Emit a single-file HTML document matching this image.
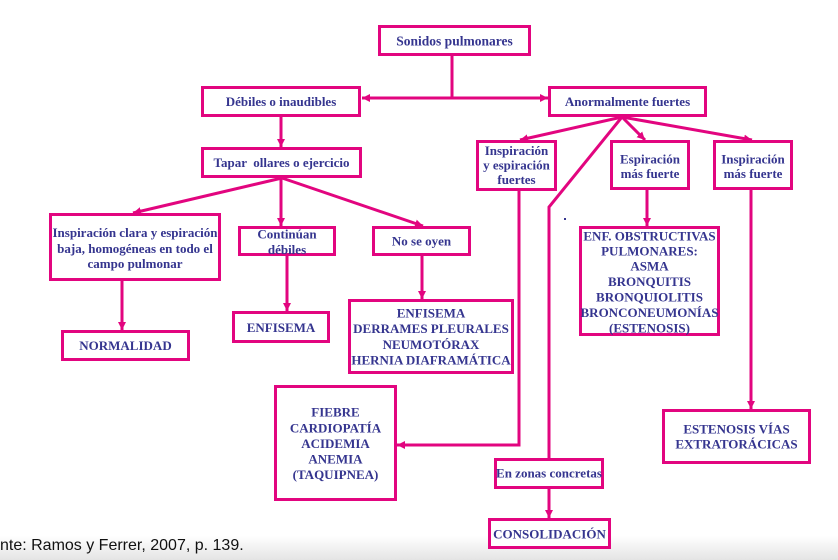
<!DOCTYPE html>
<html>
<head>
<meta charset="utf-8">
<style>
  html, body { margin:0; padding:0; }
  body { width:838px; height:560px; overflow:hidden; background:#fff; position:relative; }
  svg { position:absolute; left:0; top:0; }
  .t { font-family:"Liberation Serif", serif; font-weight:bold; font-size:13px; fill:#35358f; text-anchor:middle; }
  .b { fill:#fff; stroke:#e2057f; stroke-width:3; }
  .l { fill:none; stroke:#e2057f; stroke-width:3; }
  .src { font-family:"Liberation Sans", sans-serif; font-size:16px; fill:#111; }
</style>
</head>
<body>
<svg width="838" height="560" viewBox="0 0 838 560" xmlns="http://www.w3.org/2000/svg">
  <defs>
    <linearGradient id="bg" x1="0" y1="0" x2="0" y2="1">
      <stop offset="0" stop-color="#ffffff"/>
      <stop offset="1" stop-color="#e4e4e4"/>
    </linearGradient>
    <marker id="a" markerUnits="userSpaceOnUse" markerWidth="9" markerHeight="9" refX="8" refY="4.5" orient="auto">
      <path d="M0,0.5 L8,4.5 L0,8.5 z" fill="#e2057f"/>
    </marker>
  </defs>
  <rect x="0" y="536" width="838" height="24" fill="url(#bg)"/>

  <!-- connectors -->
  <path class="l" d="M452,56 L452,98"/>
  <path class="l" d="M452,98 L362,98" marker-end="url(#a)"/>
  <path class="l" d="M452,98 L548,98" marker-end="url(#a)"/>
  <path class="l" d="M281,117 L281,147" marker-end="url(#a)"/>
  <path class="l" d="M282,178 L133,213" marker-end="url(#a)"/>
  <path class="l" d="M281,178 L281,226" marker-end="url(#a)"/>
  <path class="l" d="M282,178 L423,226" marker-end="url(#a)"/>
  <path class="l" d="M122,281 L122,330" marker-end="url(#a)"/>
  <path class="l" d="M287,256 L287,311" marker-end="url(#a)"/>
  <path class="l" d="M422,256 L422,299" marker-end="url(#a)"/>
  <path class="l" d="M622,117 L520,140" marker-end="url(#a)"/>
  <path class="l" d="M622,117 L645,140" marker-end="url(#a)"/>
  <path class="l" d="M622,117 L752,140" marker-end="url(#a)"/>
  <path class="l" d="M622,117 L549,207 L549,458"/>
  <path class="l" d="M519,191 L519,445 L397,445" marker-end="url(#a)"/>
  <path class="l" d="M647,190 L647,226" marker-end="url(#a)"/>
  <path class="l" d="M751,190 L751,409" marker-end="url(#a)"/>
  <path class="l" d="M549,488 L549,518" marker-end="url(#a)"/>
  <rect x="564" y="218" width="2" height="2" fill="#35358f"/>

  <!-- boxes -->
  <rect class="b" x="379.5" y="26.5" width="150" height="28"/>
  <text class="t" x="454.5" y="45.5" style="font-size:13.5px">Sonidos pulmonares</text>

  <rect class="b" x="202.5" y="87.5" width="157" height="28"/>
  <text class="t" x="281" y="106">Débiles o inaudibles</text>

  <rect class="b" x="549.5" y="87.5" width="156" height="28"/>
  <text class="t" x="627.5" y="106">Anormalmente fuertes</text>

  <rect class="b" x="202.5" y="148.5" width="158" height="28"/>
  <text class="t" x="281.5" y="167" xml:space="preserve">Tapar  ollares o ejercicio</text>

  <rect class="b" x="50.5" y="214.5" width="169" height="65"/>
  <text class="t" x="135" y="237">Inspiración clara y espiración</text>
  <text class="t" x="135" y="253">baja, homogéneas en todo el</text>
  <text class="t" x="135" y="268">campo pulmonar</text>

  <rect class="b" x="239.5" y="227.5" width="95" height="27"/>
  <text class="t" x="287" y="238.5">Continúan</text>
  <text class="t" x="287" y="254">débiles</text>

  <rect class="b" x="373.5" y="227.5" width="96" height="27"/>
  <text class="t" x="421.5" y="245.5">No se oyen</text>

  <rect class="b" x="62.5" y="331.5" width="126" height="28"/>
  <text class="t" x="125.5" y="350">NORMALIDAD</text>

  <rect class="b" x="233.5" y="312.5" width="95" height="29"/>
  <text class="t" x="281" y="332">ENFISEMA</text>

  <rect class="b" x="349.5" y="300.5" width="163" height="72"/>
  <text class="t" x="431" y="317.5">ENFISEMA</text>
  <text class="t" x="431" y="333.2">DERRAMES PLEURALES</text>
  <text class="t" x="431" y="348.8">NEUMOTÓRAX</text>
  <text class="t" x="431" y="364.4">HERNIA DIAFRAMÁTICA</text>

  <rect class="b" x="477.5" y="141.5" width="78" height="48"/>
  <text class="t" x="516.5" y="155">Inspiración</text>
  <text class="t" x="516.5" y="169.5">y espiración</text>
  <text class="t" x="516.5" y="184">fuertes</text>

  <rect class="b" x="611.5" y="141.5" width="77" height="47"/>
  <text class="t" x="650" y="163.3">Espiración</text>
  <text class="t" x="650" y="177.8">más fuerte</text>

  <rect class="b" x="714.5" y="141.5" width="77" height="47"/>
  <text class="t" x="753" y="163.3">Inspiración</text>
  <text class="t" x="753" y="177.8">más fuerte</text>

  <rect class="b" x="580.5" y="227.5" width="138" height="107"/>
  <text class="t" x="649.5" y="240.5">ENF. OBSTRUCTIVAS</text>
  <text class="t" x="649.5" y="255.6">PULMONARES:</text>
  <text class="t" x="649.5" y="270.7">ASMA</text>
  <text class="t" x="649.5" y="286">BRONQUITIS</text>
  <text class="t" x="649.5" y="301.3">BRONQUIOLITIS</text>
  <text class="t" x="649.5" y="316.8">BRONCONEUMONÍAS</text>
  <text class="t" x="649.5" y="332.5">(ESTENOSIS)</text>

  <rect class="b" x="275.5" y="386.5" width="120" height="113"/>
  <text class="t" x="335.5" y="416.7">FIEBRE</text>
  <text class="t" x="335.5" y="432.3">CARDIOPATÍA</text>
  <text class="t" x="335.5" y="447.9">ACIDEMIA</text>
  <text class="t" x="335.5" y="463.5">ANEMIA</text>
  <text class="t" x="335.5" y="479">(TAQUIPNEA)</text>

  <rect class="b" x="495.5" y="459.5" width="107" height="28"/>
  <text class="t" x="549" y="477.5">En zonas concretas</text>

  <rect class="b" x="489.5" y="519.5" width="120" height="28"/>
  <text class="t" x="549.5" y="538.3">CONSOLIDACIÓN</text>

  <rect class="b" x="663.5" y="410.5" width="146" height="52"/>
  <text class="t" x="736.5" y="433.3">ESTENOSIS VÍAS</text>
  <text class="t" x="736.5" y="448.5">EXTRATORÁCICAS</text>

  <text class="src" x="-27.6" y="550">Fuente: Ramos y Ferrer, 2007, p. 139.</text>
</svg>
</body>
</html>
